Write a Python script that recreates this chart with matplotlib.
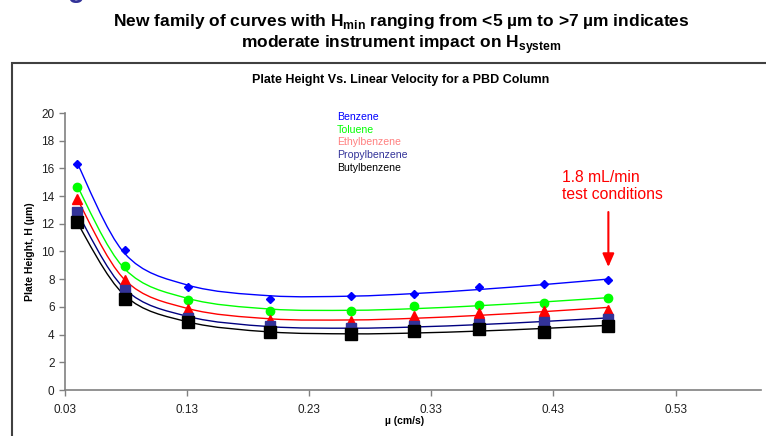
import numpy as np
import matplotlib
matplotlib.use("Agg")
import matplotlib.pyplot as plt
from matplotlib.path import Path
from matplotlib.patches import PathPatch, Rectangle

plt.rcParams['font.family'] = ['Liberation Sans', 'DejaVu Sans']
plt.rcParams['mathtext.fontset'] = 'custom'
plt.rcParams['mathtext.bf'] = 'Liberation Sans:bold'
plt.rcParams['mathtext.rm'] = 'Liberation Sans'

# linear velocity (cm/s)
velocity = [0.040, 0.079, 0.131, 0.198, 0.264, 0.316, 0.369, 0.422, 0.475]

# plate height H (um) per compound
benzene = [16.3, 10.1, 7.47, 6.58, 6.82, 6.94, 7.42, 7.64, 7.93]
toluene = [14.65, 8.97, 6.50, 5.69, 5.69, 6.03, 6.15, 6.29, 6.67]
ethylbenzene = [13.8, 7.95, 5.83, 5.06, 4.97, 5.35, 5.59, 5.69, 5.76]
propylbenzene = [12.85, 7.23, 5.20, 4.63, 4.50, 4.63, 4.80, 4.92, 5.11]
butylbenzene = [12.15, 6.60, 4.94, 4.22, 4.07, 4.29, 4.39, 4.22, 4.65]

names = ['Benzene', 'Toluene', 'Ethylbenzene', 'Propylbenzene', 'Butylbenzene']
series = [benzene, toluene, ethylbenzene, propylbenzene, butylbenzene]
label_colors = ['#0000FF', '#00FF00', '#FF8080', '#333399', '#000000']
marker_colors = ['#0000FF', '#00FF00', '#FF0000', '#333399', '#000000']
line_colors = ['#0000FF', '#00FF00', '#FF0000', '#000080', '#000000']
markers = ['D', 'o', '^', 's', 's']
marker_sizes = [4.5, 6, 7, 7.5, 8.5]


def van_deemter_fit(u, h):
    # least squares H = A + B/u + C*u
    u = np.asarray(u)
    m = np.column_stack([np.ones_like(u), 1.0 / u, u])
    coef, *_ = np.linalg.lstsq(m, np.asarray(h), rcond=None)
    return m @ coef


def smooth_path(x, y):
    # excel style smoothed line: bezier with catmull-rom control points
    pts = np.column_stack([x, y])
    verts = [pts[0]]
    codes = [Path.MOVETO]
    n = len(pts)
    for i in range(n - 1):
        p0 = pts[i - 1] if i > 0 else pts[i]
        p1 = pts[i]
        p2 = pts[i + 1]
        p3 = pts[i + 2] if i + 2 < n else pts[i + 1]
        verts += [p1 + (p2 - p0) / 6.0, p2 - (p3 - p1) / 6.0, p2]
        codes += [Path.CURVE4] * 3
    return Path(verts, codes)


fig = plt.figure(figsize=(7.66, 4.36), dpi=100)

# bottom of the slide heading, cut off by the crop
fig.text(68 / 766, 1 + 3 / 436, "g", fontsize=20, fontweight='bold',
         color='#333399', va='baseline', ha='left')

fig.text(0.524, 0.950,
         r"New family of curves with H$_{\mathbf{min}}$ ranging from <5 µm to >7 µm indicates",
         ha='center', va='center', fontsize=12.5, fontweight='bold')
fig.text(0.524, 0.898, r"moderate instrument impact on H$_{\mathbf{system}}$",
         ha='center', va='center', fontsize=12.5, fontweight='bold')

fig.add_artist(Rectangle((12 / 766, -0.1), 1.2, 0.1 + (436 - 63) / 436,
                         transform=fig.transFigure, fill=False,
                         edgecolor='#404040', lw=1.5))

fig.text(0.523, 1 - 80 / 436, "Plate Height Vs. Linear Velocity for a PBD Column",
         ha='center', va='center', fontsize=9, fontweight='bold')

ax = fig.add_axes([65 / 766, 46 / 436, 696 / 766, 277 / 436])

for vals, lc, mc, mk, ms in zip(series, line_colors, marker_colors, markers, marker_sizes):
    fitted = van_deemter_fit(velocity, vals)
    ax.add_patch(PathPatch(smooth_path(velocity, fitted), fill=False,
                           edgecolor=lc, lw=1.0, zorder=2))
    ax.plot(velocity, vals, linestyle='none', marker=mk, ms=ms,
            color=mc, markeredgecolor=mc, zorder=3)

ax.set_xlim(0.03, 0.6)
ax.set_ylim(0, 20)
ax.set_xticks(np.arange(0.03, 0.54, 0.1))
ax.set_xticklabels(['0.03', '0.13', '0.23', '0.33', '0.43', '0.53'])
ax.set_yticks(range(0, 21, 2))
ax.tick_params(axis='both', labelsize=8.5, direction='out', length=4,
               color='#808080', width=1, labelcolor='#202020')
ax.tick_params(axis='x', pad=6)
for side in ['top', 'right']:
    ax.spines[side].set_visible(False)
for side in ['left', 'bottom']:
    ax.spines[side].set_color('#808080')
    ax.spines[side].set_linewidth(1.2)

ax.set_xlabel("µ (cm/s)", fontsize=7.5, fontweight='bold')
ax.xaxis.set_label_coords((405 - 65) / 696, -0.095)
ax.set_ylabel("Plate Height, H (µm)", fontsize=7.5, fontweight='bold')
ax.yaxis.set_label_coords(-0.043, 0.5)

# text-only legend
for i, (name, c) in enumerate(zip(names, label_colors)):
    fig.text(337 / 766, 1 - (117 + i * 12.7) / 436, name, color=c,
             fontsize=7.6, ha='left', va='center')

ax.annotate("", xy=(velocity[-1], 8.88), xytext=(velocity[-1], 12.85),
            arrowprops=dict(arrowstyle='-|>,head_width=0.35,head_length=0.8',
                            color='#FF0000', lw=1.5, shrinkA=0, shrinkB=0))
ax.text(0.4367, 14.73, "1.8 mL/min\ntest conditions", color='#FF0000',
        fontsize=11.3, ha='left', va='center', linespacing=1.15)

fig.savefig("out.png", dpi=100)
